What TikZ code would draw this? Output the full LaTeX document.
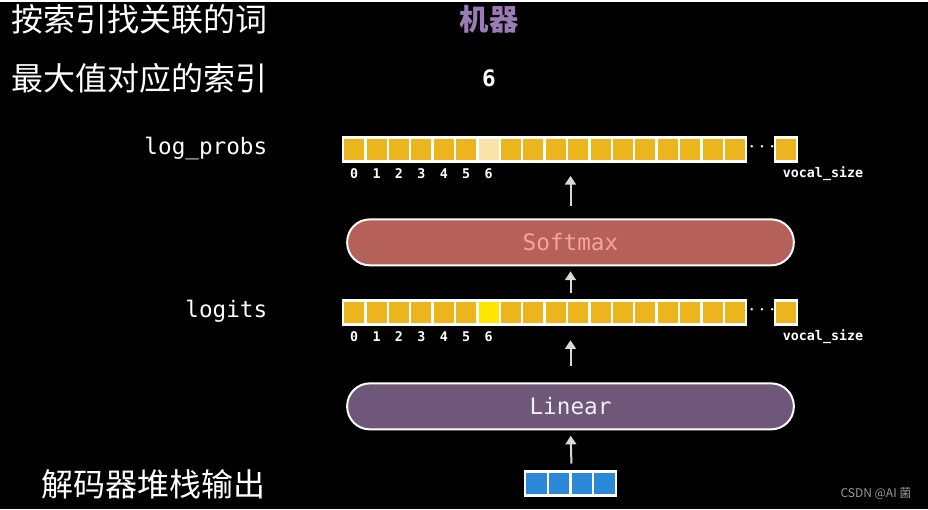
\documentclass[tikz,border=0pt]{standalone}
\usepackage{fontspec}
\setmonofont{DejaVu Sans Mono}
\newfontfamily\cjk{Noto Sans CJK SC}
\usetikzlibrary{positioning,arrows.meta}
\definecolor{cellfill}{HTML}{EDB51D}
\definecolor{cellhot}{HTML}{FFE600}
\definecolor{cellpale}{HTML}{FCE3A9}
\definecolor{decblue}{HTML}{2B87D8}
\definecolor{softred}{HTML}{B5615A}
\definecolor{softtext}{HTML}{F7A39B}
\definecolor{linpurple}{HTML}{6E5779}
\definecolor{wordpurple}{HTML}{9B7BB5}
\definecolor{arrowgray}{HTML}{D9D9D9}

\begin{document}
\begin{tikzpicture}[x=0.75pt,y=-0.75pt,
  cell/.style={draw=white,line width=1.7pt,fill=cellfill,minimum width=16.8pt,minimum height=18pt,inner sep=0pt},
  idx/.style={text=white,font=\ttfamily\bfseries\fontsize{10}{12}\selectfont},
  dots/.style={text=white,font=\bfseries\fontsize{16}{16}\selectfont},
  layer/.style={draw=white,line width=1.5pt,rounded corners=17pt,minimum width=335pt,minimum height=34.5pt,font=\ttfamily\fontsize{17}{20}\selectfont},
  tag/.style={text=white,anchor=east,font=\ttfamily\fontsize{17}{20}\selectfont},
  hanzi/.style={text=white,anchor=east,font=\cjk\fontsize{24}{28}\selectfont},
  uparrow/.style={draw=arrowgray,line width=1.5pt,-{Triangle[width=8pt,length=6.5pt]}}]
\fill[black] (0,0) rectangle (928,507);

% log_probs row
\foreach \i in {0,...,17}
  \node[cell] (lp\i) at ({354.2+22.4*\i},147) {};
\node[cell,fill=cellpale] at (lp6) {};
\node[dots] (lpdots) at (762,145) {$\cdots$};
\node[cell] (lpN) at (786,147) {};
\foreach \i in {0,...,6}
  \node[idx] at (lp\i |- 0,171) {\i};
\node[idx] (lpsize) at (823,171) {vocal\_size};

% logits row
\foreach \i in {0,...,17}
  \node[cell] (lg\i) at ({354.2+22.4*\i},310) {};
\node[cell,fill=cellhot] at (lg6) {};
\node[dots] (lgdots) at (762,308) {$\cdots$};
\node[cell] (lgN) at (786,310) {};
\foreach \i in {0,...,6}
  \node[idx] at (lg\i |- 0,334) {\i};
\node[idx] (lgsize) at (823,334) {vocal\_size};

% layers
\node[layer,fill=softred,text=softtext] (softmax) at (570.5,240) {Softmax};
\node[layer,fill=linpurple,text=white!94!black] (linear) at (570.5,404) {Linear};

% decoder output
\foreach \i in {0,...,3}
  \node[cell,fill=decblue,minimum width=17pt] (dec\i) at ({536.4+22.75*\i},481) {};

% arrows
\draw[uparrow,shorten <=5pt,shorten >=4pt] (dec1.north east) -- (linear.south);
\draw[uparrow,shorten <=12pt,shorten >=11pt] (linear.north) -- (linear.north |- lg0.south);
\draw[uparrow,shorten <=4.5pt,shorten >=3.75pt] (linear.north |- lg0.north) -- (softmax.south);
\draw[uparrow,shorten <=9pt,shorten >=10pt] (softmax.north) -- (softmax.north |- lp0.south);

% left labels
\node[tag] (lplabel) at (272,146) {log\_probs};
\node[tag] (lglabel) at (272,309) {logits};
\node[hanzi] (declabel) at (270,482) {解码器堆栈输出};
\node[hanzi] (maxlabel) at (272,76) {最大值对应的索引};
\node[hanzi] (wordlabel) at (272,17) {按索引找关联的词};

% results
\node[text=white,font=\ttfamily\bfseries\fontsize{17}{20}\selectfont] (maxidx) at (489,76) {6};
\node[text=wordpurple,font=\cjk\bfseries\fontsize{22}{26}\selectfont] (word) at (489,17) {机器};

\node[text=gray!80,font=\cjk\fontsize{9}{11}\selectfont] (mark) at (876,491) {CSDN @AI 菌};
\end{tikzpicture}
\end{document}
